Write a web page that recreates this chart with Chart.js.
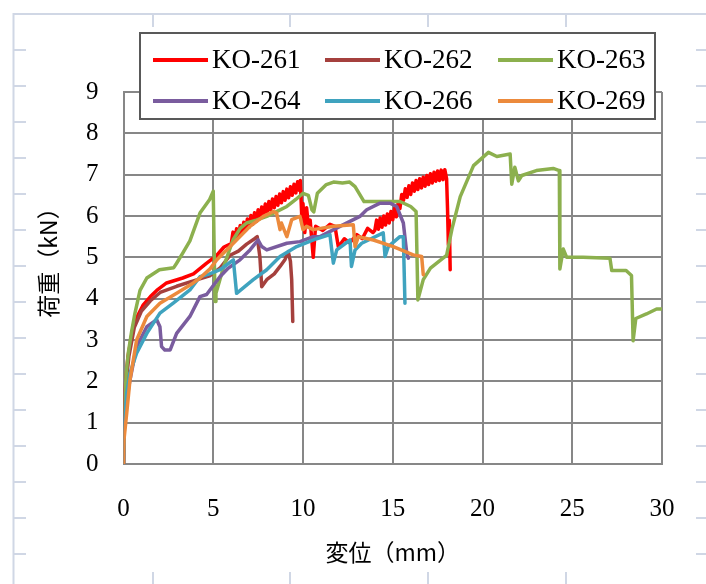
<!DOCTYPE html>
<html>
<head>
<meta charset="utf-8">
<script src="https://cdn.jsdelivr.net/npm/chart.js@4.4.1/dist/chart.umd.min.js"></script>
<style>
  html, body { margin: 0; padding: 0; background: #fff; }
  #chart { display: block; }
</style>
</head>
<body>
<canvas id="chart" width="706" height="584"></canvas>
<script>
// series labels and colours
const seriesNames = ['KO-261', 'KO-262', 'KO-263', 'KO-264', 'KO-266', 'KO-269'];
const seriesColors = ['#FF0000', '#A5403D', '#8CB04E', '#7A5C9E', '#3FA3BF', '#EC8A3C'];

// displacement (mm) / load (kN)
const ko261X = [0, 0.03, 0.1, 0.25, 0.55, 0.8, 1.1, 1.5, 1.85, 2.4, 3.3, 3.9, 4.6, 5.2, 5.6,
  6.0, 6.1, 6.2, 6.3, 6.4, 6.5, 6.6, 6.7, 6.8, 6.9, 7.0, 7.1, 7.2, 7.3, 7.4, 7.5, 7.6, 7.7, 7.8, 7.9,
  8.0, 8.1, 8.2, 8.3, 8.4, 8.5, 8.6, 8.7, 8.8, 8.9, 9.0, 9.1, 9.2, 9.3, 9.4, 9.5, 9.6, 9.7, 9.8, 9.85,
  9.93, 10.0, 10.1, 10.2, 10.3, 10.4, 10.57, 10.7, 11.1, 11.5, 11.78, 11.97, 12.3, 12.6, 13.0, 13.3, 13.6, 13.9,
  14.0, 14.1, 14.2, 14.3, 14.4, 14.5, 14.6, 14.7, 14.8, 14.9, 15.0, 15.1, 15.2, 15.3, 15.4, 15.5, 15.6, 15.7,
  15.8, 15.9, 16.0, 16.1, 16.2, 16.3, 16.4, 16.5, 16.6, 16.7, 16.8, 16.9, 17.0, 17.1, 17.2, 17.3, 17.4, 17.5,
  17.6, 17.7, 17.8, 17.9, 18.0, 18.05, 18.1, 18.15, 18.2];
const ko261Y = [0, 1.0, 1.9, 2.6, 3.35, 3.6, 3.85, 4.05, 4.2, 4.38, 4.5, 4.6, 4.85, 5.05, 5.25,
  5.33, 5.61, 5.41, 5.69, 5.49, 5.77, 5.57, 5.85, 5.65, 5.93, 5.73, 6.01, 5.80, 6.08, 5.87, 6.15, 5.94, 6.22, 6.01, 6.29,
  6.08, 6.35, 6.14, 6.41, 6.20, 6.47, 6.26, 6.53, 6.32, 6.59, 6.38, 6.65, 6.44, 6.71, 6.50, 6.77, 6.56, 6.83, 6.62, 6.86,
  6.0, 6.3, 5.6, 6.2, 5.75, 5.9, 5.0, 5.75, 5.65, 5.8, 5.75, 5.25, 5.45, 5.35, 5.55, 5.45, 5.7, 5.6,
  5.65, 5.90, 5.68, 5.95, 5.73, 6.00, 5.78, 6.05, 5.83, 6.11, 5.91, 6.18, 5.98, 6.32, 6.18, 6.52, 6.38, 6.66,
  6.45, 6.73, 6.52, 6.80, 6.60, 6.86, 6.64, 6.90, 6.68, 6.94, 6.72, 6.98, 6.76, 7.02, 6.80, 7.06, 6.84, 7.09,
  6.86, 7.11, 6.88, 7.12, 6.9, 6.2, 5.3, 5.9, 4.7];

const ko262X = [0, 0.03, 0.1, 0.3, 0.6, 1.0, 1.5, 2.04, 2.96, 3.8, 4.8, 5.4, 5.94, 6.4, 6.86, 7.3, 7.45,
  7.6, 7.7, 7.98, 8.4, 8.72, 9.0, 9.18, 9.3, 9.37, 9.43];
const ko262Y = [0, 1.0, 1.8, 2.6, 3.3, 3.7, 3.95, 4.15, 4.3, 4.42, 4.55, 4.75, 5.05, 5.15, 5.32, 5.45, 5.5,
  5.0, 4.29, 4.46, 4.6, 4.78, 4.95, 5.14, 4.9, 4.46, 3.45];

const ko263X = [0, 0.05, 0.15, 0.27, 0.45, 0.64, 0.92, 1.3, 2.0, 2.8, 2.95, 3.3, 3.7, 4.26, 4.8, 5.0,
  5.05, 5.1, 5.15, 5.6, 6.1, 6.5, 6.86, 7.4, 7.98, 8.5, 9.1, 9.6, 10.0, 10.3, 10.5, 10.6, 10.8, 11.3,
  11.7, 12.2, 12.6, 12.9, 13.4, 14.85, 15.4, 16.0, 16.3, 16.4, 16.7, 17.1, 17.8, 18.0, 18.3, 18.76,
  19.5, 20.33, 20.8, 21.54, 21.63, 21.8, 22.0, 22.19, 23.0, 23.94, 24.28, 24.31, 24.5, 24.69, 25.6,
  27.1, 27.2, 28.0, 28.3, 28.39, 28.54, 29.13, 29.7, 30.0];
const ko263Y = [0, 1.2, 2.2, 2.7, 3.2, 3.65, 4.2, 4.5, 4.7, 4.75, 4.85, 5.1, 5.4, 6.07, 6.4, 6.6,
  5.2, 3.93, 4.13, 4.8, 5.42, 5.7, 5.83, 5.9, 5.99, 6.1, 6.23, 6.4, 6.55, 6.5, 6.15, 6.1, 6.55, 6.76,
  6.82, 6.8, 6.82, 6.71, 6.35, 6.35, 6.35, 6.23, 6.11, 3.97, 4.46, 4.74, 4.98, 5.05, 5.69, 6.47,
  7.22, 7.54, 7.44, 7.5, 6.77, 7.18, 6.85, 6.98, 7.1, 7.15, 7.1, 4.72, 5.2, 5.0, 5.0,
  4.98, 4.68, 4.68, 4.56, 2.98, 3.52, 3.63, 3.75, 3.75];

const ko264X = [0, 0.05, 0.2, 0.36, 0.73, 1.3, 1.85, 2.03, 2.12, 2.3, 2.6, 2.96, 3.7, 4.26, 4.63, 5.37,
  5.84, 6.49, 7.05, 7.5, 7.7, 7.98, 9.1, 9.83, 10.57, 10.95, 12.06, 13.17, 13.55, 14.29, 14.85, 15.22,
  15.59, 15.78, 15.87];
const ko264Y = [0, 1.0, 1.6, 2.03, 2.84, 3.32, 3.49, 3.32, 2.84, 2.76, 2.76, 3.16, 3.57, 4.05, 4.1, 4.53,
  4.74, 4.94, 5.18, 5.42, 5.26, 5.18, 5.34, 5.38, 5.5, 5.5, 5.75, 5.99, 6.15, 6.31, 6.31, 6.23,
  5.83, 5.1, 4.98];

const ko266X = [0, 0.05, 0.18, 0.36, 0.73, 1.3, 2.03, 2.77, 3.7, 4.26, 4.8, 5.38, 6.12, 6.3, 7.23, 7.98,
  8.72, 9.65, 10.76, 11.5, 11.69, 11.88, 12.62, 12.7, 12.9, 13.27, 14.47, 14.57, 14.75, 15.4, 15.59, 15.68];
const ko266Y = [0, 0.9, 1.71, 2.2, 2.68, 3.16, 3.65, 3.89, 4.21, 4.53, 4.6, 4.7, 4.94, 4.13, 4.46, 4.7,
  5.02, 5.26, 5.45, 5.55, 4.86, 5.18, 5.42, 4.78, 5.18, 5.34, 5.59, 5.02, 5.26, 5.5, 5.5, 3.89];

const ko269X = [0, 0.03, 0.18, 0.36, 0.73, 1.3, 2.03, 2.96, 3.89, 4.26, 4.82, 5.2, 5.84, 6.12, 7.05, 7.79,
  8.35, 8.53, 8.72, 8.8, 9.1, 9.37, 9.83, 10.0, 10.2, 10.57, 11.69, 12.8, 12.9, 13.08, 13.92, 15.03,
  16.14, 16.61, 16.7];
const ko269Y = [0, 0.6, 1.23, 2.03, 3.0, 3.57, 3.89, 4.13, 4.38, 4.5, 4.72, 4.94, 5.22, 5.34, 5.75, 5.99,
  6.11, 6.07, 5.67, 5.83, 5.5, 5.91, 5.99, 5.67, 5.75, 5.67, 5.75, 5.79, 5.26, 5.5, 5.42, 5.26,
  5.06, 5.02, 4.58];

// axis ticks and titles
const xTickLabels = [0, 5, 10, 15, 20, 25, 30];
const yTickLabels = [0, 1, 2, 3, 4, 5, 6, 7, 8, 9];
const xTitle = '変位（mm）';
const yTitle = '荷重（kN）';

const seriesX = [ko261X, ko262X, ko263X, ko264X, ko266X, ko269X];
const seriesY = [ko261Y, ko262Y, ko263Y, ko264Y, ko266Y, ko269Y];

const numFont = "'Liberation Serif', serif";
const jpFont = "'Noto Sans CJK JP', sans-serif";

// spreadsheet cell grid behind the chart object
const sheetBackground = {
  id: 'sheetBackground',
  beforeDraw(chart) {
    const ctx = chart.ctx;
    const w = chart.width, h = chart.height;
    ctx.save();
    ctx.fillStyle = '#fff';
    ctx.fillRect(0, 0, w, h);
    ctx.strokeStyle = '#D0D7E5';
    ctx.lineWidth = 2;
    [13.5, 153, 290, 428, 566].forEach(x => {
      ctx.beginPath(); ctx.moveTo(x, 13); ctx.lineTo(x, h); ctx.stroke();
    });
    for (let y = 14; y < h; y += 36) {
      ctx.beginPath(); ctx.moveTo(13, y); ctx.lineTo(w, y); ctx.stroke();
    }
    ctx.fillStyle = '#fff';
    ctx.fillRect(26, 27, 670, 545);
    ctx.restore();
  }
};

// legend box over the top of the plot, and the vertical title, like the original
const overlay = {
  id: 'overlay',
  afterDraw(chart) {
    const ctx = chart.ctx;
    ctx.save();
    ctx.fillStyle = '#fff';
    ctx.fillRect(140, 33, 515, 86);
    ctx.strokeStyle = '#595959';
    ctx.lineWidth = 2;
    ctx.strokeRect(140, 33, 515, 86);
    const colX = [153, 325, 498];
    const rowY = [60, 101];
    ctx.font = "27px " + numFont;
    ctx.textBaseline = 'middle';
    chart.data.datasets.forEach((ds, i) => {
      const x = colX[i % 3], y = rowY[Math.floor(i / 3)];
      ctx.strokeStyle = ds.borderColor;
      ctx.lineWidth = 4;
      ctx.beginPath(); ctx.moveTo(x, y); ctx.lineTo(x + 55, y); ctx.stroke();
      ctx.fillStyle = '#000';
      ctx.fillText(ds.label, x + 59, y + 1);
    });

    ctx.translate(48, 257);
    ctx.rotate(-Math.PI / 2);
    ctx.font = "23px " + jpFont;
    ctx.textAlign = 'center';
    ctx.fillText(yTitle, 0, 0);
    ctx.restore();
  }
};

const datasets = seriesNames.map((name, i) => ({
  label: name,
  data: seriesX[i].map((x, j) => ({ x: x, y: seriesY[i][j] })),
  borderColor: seriesColors[i],
  backgroundColor: seriesColors[i],
  borderWidth: 3.5,
  borderJoinStyle: 'round',
  borderCapStyle: 'round',
  pointRadius: 0,
  tension: 0,
  order: seriesNames.length - i
}));

new Chart(document.getElementById('chart'), {
  type: 'line',
  data: { datasets: datasets },
  plugins: [sheetBackground, overlay],
  options: {
    responsive: false,
    animation: false,
    devicePixelRatio: 1,
    layout: { padding: { left: 27, right: 44, top: 92, bottom: 12 } },
    plugins: {
      legend: { display: false },
      tooltip: { enabled: false }
    },
    scales: {
      x: {
        type: 'linear',
        min: 0,
        max: 30,
        afterFit: s => { s.height = 108; },
        afterBuildTicks: s => { s.ticks = xTickLabels.map(v => ({ value: v })); },
        grid: { color: '#878787', lineWidth: 2, drawTicks: false },
        border: { color: '#878787', width: 2 },
        ticks: { color: '#000', padding: 30, font: { family: numFont, size: 25 } },
        title: {
          display: true,
          text: xTitle,
          color: '#000',
          font: { family: jpFont, size: 23 },
          padding: { top: 0, bottom: 6 }
        }
      },
      y: {
        min: 0,
        max: 9,
        afterFit: s => { s.width = 96.5; },
        afterBuildTicks: s => { s.ticks = yTickLabels.map(v => ({ value: v })); },
        grid: { color: '#878787', lineWidth: 2, drawTicks: false },
        border: { color: '#878787', width: 2 },
        ticks: { color: '#000', padding: 25, font: { family: numFont, size: 25 } }
      }
    }
  }
});
</script>
</body>
</html>
